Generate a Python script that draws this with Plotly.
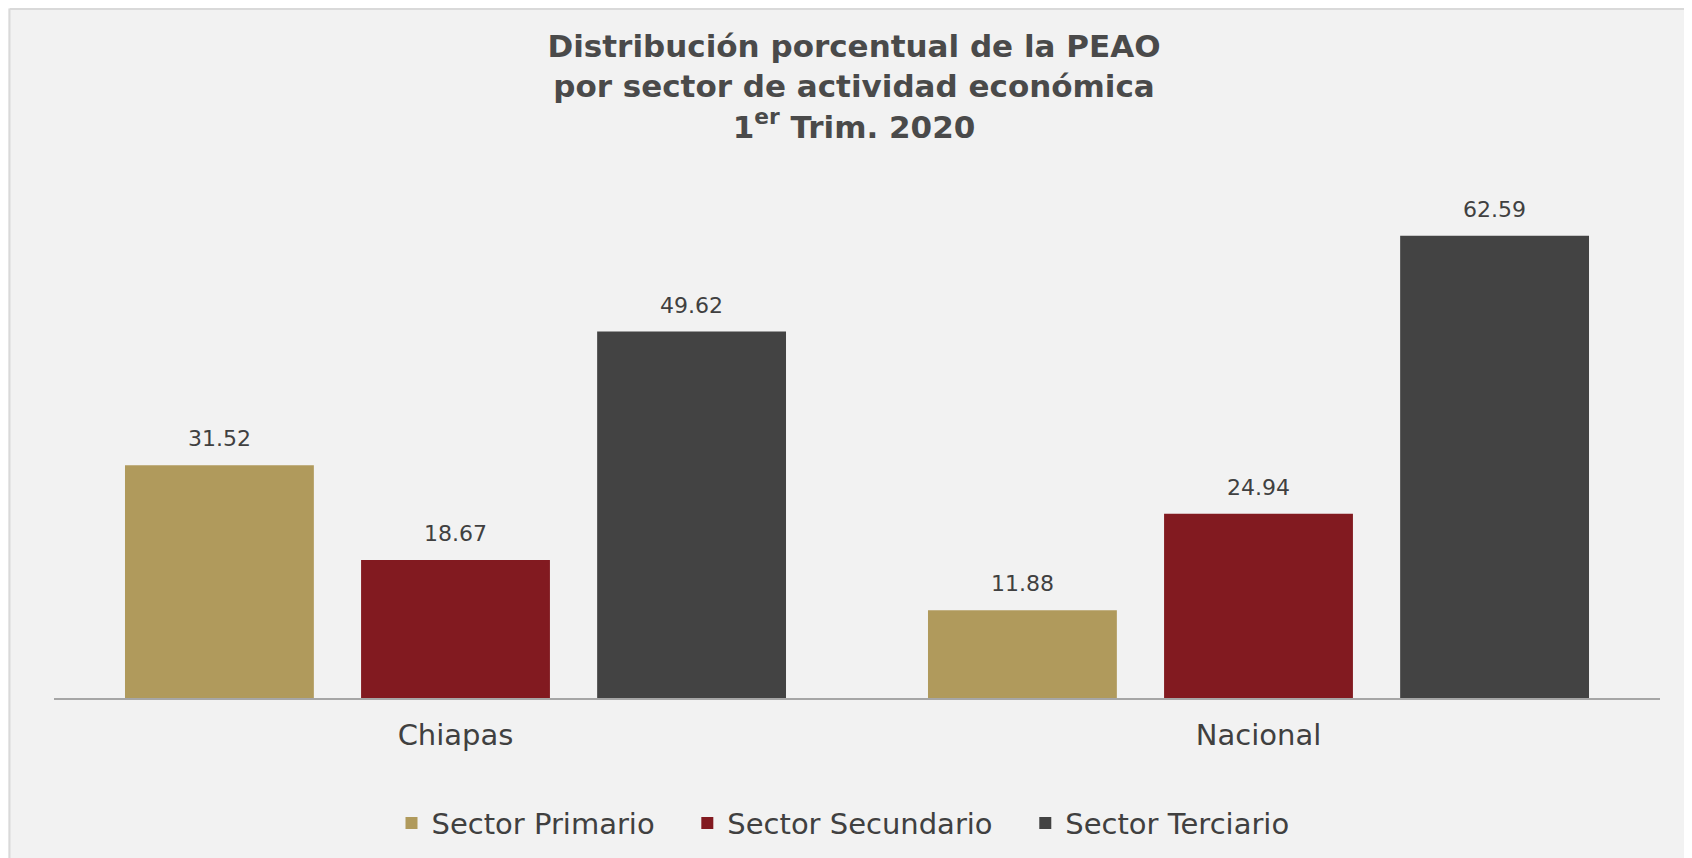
import plotly.graph_objects as go

categories = ["Chiapas", "Nacional"]
primario = [31.52, 11.88]
secundario = [18.67, 24.94]
terciario = [49.62, 62.59]
series_names = ["Sector Primario", "Sector Secundario", "Sector Terciario"]
colors = ["#b09a5c", "#821a20", "#434343"]

W, H = 1692, 858
L, R, T, B = 46, 40, 173, 168
GAP = 0.118

fig = go.Figure()
for name, vals, col in zip(series_names, [primario, secundario, terciario], colors):
    fig.add_trace(go.Bar(
        x=categories, y=vals, name=name + "\u00a0\u00a0\u00a0",
        marker=dict(color=col, line=dict(width=0)),
        hoverinfo="x+y",
    ))
for name, vals in zip(series_names, [primario, secundario, terciario]):
    fig.add_trace(go.Scatter(
        x=categories, y=vals, mode="markers+text", showlegend=False,
        text=[f"{v:.2f}" for v in vals], textposition="top center",
        textfont=dict(size=22, color="#404040", family="DejaVu Sans"),
        marker=dict(size=20, opacity=0), hoverinfo="skip", cliponaxis=False,
    ))

pw = W - L - R
ph = H - T - B
bx = (1.5 - L) / pw
by = 1 + (T - 1) / ph

fig.update_layout(
    width=W, height=H,
    margin=dict(l=L, r=R, t=T, b=B, autoexpand=False),
    paper_bgcolor="#f2f2f2", plot_bgcolor="#f2f2f2",
    barmode="group", bargap=GAP, bargroupgap=0.2,
    scattermode="group", scattergap=GAP,
    title=dict(
        text="Distribución porcentual de la PEAO<br>por sector de actividad económica<br>1<sup>er</sup> Trim. 2020",
        x=0.5, xanchor="center", y=0.943, yanchor="top",
        font=dict(size=31, color="#4a4a4a", family="DejaVu Sans", weight="bold"),
    ),
    xaxis=dict(showline=True, linecolor="#a6a6a6", linewidth=2, ticks="",
               tickfont=dict(size=29, color="#404040", family="DejaVu Sans"),
               ticklabelstandoff=10,
               showgrid=False, zeroline=False),
    yaxis=dict(range=[0, 70], visible=False, showgrid=False, zeroline=False),
    legend=dict(orientation="h", x=0.5, xanchor="center", y=-0.242, yanchor="middle",
                font=dict(size=29, color="#404040", family="DejaVu Sans"),
                traceorder="normal", bgcolor="rgba(0,0,0,0)"),
    showlegend=True,
    shapes=[
        dict(type="line", xref="paper", yref="paper", x0=bx, x1=1 + R / pw + 0.01, y0=by, y1=by,
             line=dict(color="#d9d9d9", width=2)),
        dict(type="line", xref="paper", yref="paper", x0=bx, x1=bx, y0=by, y1=-B / ph - 0.01,
             line=dict(color="#d9d9d9", width=2)),
    ],
)

fig.write_html("out.html")
